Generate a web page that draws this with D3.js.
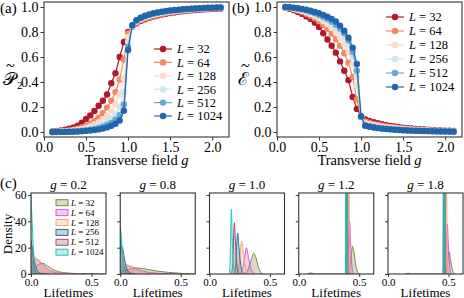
<!DOCTYPE html>
<html>
<head>
<meta charset="utf-8">
<script src="https://cdn.jsdelivr.net/npm/d3@7"></script>
<style>
  body { margin: 0; background: #fff; }
  svg text { font-family: "Liberation Serif", "DejaVu Serif", serif; fill: #000; }
</style>
</head>
<body>
<svg id="fig" width="464" height="298"></svg>
<script>
// system sizes
const sizes = [32, 64, 128, 256, 512, 1024];

// transverse field values
const gValues = [0.1, 0.15, 0.2, 0.25, 0.3, 0.35, 0.4, 0.45, 0.5, 0.55, 0.6, 0.65, 0.7, 0.75, 0.8, 0.85, 0.9, 0.95, 1.0,
    1.05, 1.1, 1.15, 1.2, 1.25, 1.3, 1.35, 1.4, 1.45, 1.5, 1.55, 1.6, 1.65, 1.7, 1.75, 1.8, 1.85, 1.9, 1.95, 2.0, 2.05, 2.1];

// (a) P2 tilde, one list per L
const p2_L32 = [0.005, 0.008, 0.012, 0.018, 0.026, 0.036, 0.05, 0.075, 0.105, 0.133, 0.168, 0.21, 0.25, 0.30, 0.39, 0.47, 0.6, 0.72, 0.8,
    0.845, 0.87, 0.888, 0.902, 0.914, 0.924, 0.932, 0.94, 0.946, 0.952, 0.957, 0.962, 0.966, 0.97, 0.973, 0.976, 0.979, 0.981, 0.983, 0.985, 0.987, 0.988];
const p2_L64 = [0.002, 0.004, 0.006, 0.009, 0.013, 0.018, 0.026, 0.036, 0.05, 0.067, 0.088, 0.115, 0.15, 0.195, 0.25, 0.32, 0.42, 0.58, 0.79,
    0.848, 0.877, 0.896, 0.909, 0.92, 0.93, 0.938, 0.945, 0.951, 0.957, 0.962, 0.966, 0.97, 0.974, 0.977, 0.98, 0.983, 0.985, 0.987, 0.989, 0.99, 0.991];
const p2_L128 = [0.001, 0.002, 0.004, 0.006, 0.008, 0.012, 0.017, 0.024, 0.033, 0.045, 0.06, 0.078, 0.1, 0.13, 0.17, 0.22, 0.3, 0.43, 0.76,
    0.85, 0.883, 0.903, 0.917, 0.928, 0.938, 0.946, 0.953, 0.958, 0.963, 0.968, 0.972, 0.976, 0.979, 0.982, 0.985, 0.987, 0.989, 0.991, 0.992, 0.993, 0.994];
const p2_L256 = [0.001, 0.001, 0.002, 0.004, 0.005, 0.008, 0.011, 0.015, 0.021, 0.029, 0.039, 0.051, 0.066, 0.085, 0.11, 0.145, 0.2, 0.32, 0.72,
    0.852, 0.888, 0.908, 0.922, 0.933, 0.943, 0.951, 0.957, 0.962, 0.967, 0.971, 0.975, 0.979, 0.982, 0.984, 0.987, 0.989, 0.991, 0.992, 0.993, 0.994, 0.995];
const p2_L512 = [0, 0.001, 0.001, 0.002, 0.003, 0.005, 0.007, 0.01, 0.014, 0.019, 0.025, 0.033, 0.043, 0.056, 0.073, 0.098, 0.135, 0.22, 0.68,
    0.853, 0.892, 0.912, 0.926, 0.937, 0.947, 0.954, 0.96, 0.965, 0.97, 0.974, 0.977, 0.981, 0.984, 0.986, 0.988, 0.99, 0.992, 0.993, 0.994, 0.995, 0.996];
const p2_L1024 = [0, 0, 0.001, 0.001, 0.002, 0.003, 0.004, 0.006, 0.009, 0.012, 0.016, 0.021, 0.028, 0.037, 0.05, 0.066, 0.092, 0.17, 0.656,
    0.855, 0.895, 0.915, 0.93, 0.94, 0.95, 0.957, 0.963, 0.968, 0.972, 0.976, 0.979, 0.982, 0.985, 0.987, 0.989, 0.991, 0.993, 0.994, 0.995, 0.996, 0.997];

// (b) E tilde, one list per L
const e_L32 = [0.995, 0.985, 0.975, 0.96, 0.945, 0.925, 0.905, 0.875, 0.84, 0.79, 0.74, 0.69, 0.635, 0.565, 0.49, 0.415, 0.28, 0.185, 0.125,
    0.1, 0.088, 0.078, 0.07, 0.062, 0.055, 0.049, 0.044, 0.039, 0.035, 0.031, 0.028, 0.025, 0.022, 0.02, 0.018, 0.016, 0.014, 0.013, 0.011, 0.01, 0.009];
const e_L64 = [0.997, 0.99, 0.983, 0.972, 0.96, 0.946, 0.93, 0.91, 0.887, 0.858, 0.825, 0.787, 0.742, 0.69, 0.63, 0.555, 0.44, 0.26, 0.125,
    0.085, 0.074, 0.065, 0.058, 0.051, 0.045, 0.04, 0.036, 0.032, 0.028, 0.025, 0.022, 0.02, 0.018, 0.016, 0.014, 0.013, 0.011, 0.01, 0.009, 0.008, 0.007];
const e_L128 = [0.998, 0.993, 0.987, 0.979, 0.969, 0.958, 0.945, 0.929, 0.91, 0.888, 0.862, 0.832, 0.797, 0.755, 0.705, 0.64, 0.54, 0.37, 0.125,
    0.07, 0.062, 0.055, 0.049, 0.043, 0.038, 0.034, 0.03, 0.027, 0.024, 0.021, 0.019, 0.017, 0.015, 0.013, 0.012, 0.011, 0.01, 0.009, 0.008, 0.007, 0.006];
const e_L256 = [0.999, 0.995, 0.99, 0.983, 0.975, 0.966, 0.955, 0.942, 0.927, 0.909, 0.888, 0.864, 0.835, 0.8, 0.757, 0.7, 0.6, 0.44, 0.125,
    0.06, 0.05, 0.044, 0.039, 0.034, 0.03, 0.027, 0.024, 0.021, 0.019, 0.017, 0.015, 0.013, 0.012, 0.011, 0.01, 0.009, 0.008, 0.007, 0.006, 0.005, 0.005];
const e_L512 = [1.0, 0.997, 0.993, 0.987, 0.98, 0.972, 0.962, 0.951, 0.938, 0.922, 0.904, 0.883, 0.858, 0.828, 0.79, 0.735, 0.64, 0.49, 0.125,
    0.055, 0.046, 0.04, 0.035, 0.03, 0.027, 0.024, 0.021, 0.018, 0.016, 0.014, 0.013, 0.011, 0.01, 0.009, 0.008, 0.007, 0.006, 0.006, 0.005, 0.004, 0.004];
const e_L1024 = [1.0, 0.998, 0.995, 0.99, 0.985, 0.978, 0.97, 0.96, 0.95, 0.937, 0.922, 0.905, 0.884, 0.85, 0.81, 0.755, 0.675, 0.545, 0.125,
    0.05, 0.042, 0.036, 0.031, 0.027, 0.024, 0.021, 0.018, 0.016, 0.014, 0.012, 0.011, 0.01, 0.009, 0.008, 0.007, 0.006, 0.005, 0.005, 0.004, 0.004, 0.003];

// (c) lifetime densities, [lifetime, density] knots, one list per L (32 ... 1024)
const densityTitles = ["0.2", "0.8", "1.0", "1.2", "1.8"];
const dens_g02 = [
    [[0, 2], [0.03, 5], [0.07, 7.5], [0.1, 8], [0.13, 6.5], [0.17, 4], [0.22, 2], [0.3, 0.8], [0.4, 0.3], [0.55, 0.1], [0.62, 0]],
    [[0, 4], [0.02, 9], [0.05, 11], [0.08, 9], [0.12, 5], [0.17, 2], [0.25, 0.6], [0.35, 0.1], [0.45, 0]],
    [[0, 6], [0.02, 11], [0.04, 12.5], [0.06, 10], [0.09, 5], [0.13, 2], [0.2, 0.4], [0.3, 0]],
    [[0, 22], [0.01, 21], [0.025, 12], [0.045, 4], [0.07, 1], [0.1, 0.2], [0.14, 0]],
    [[0, 26], [0.01, 19], [0.02, 10], [0.035, 3], [0.055, 0.6], [0.08, 0]],
    [[0, 60], [0.008, 42], [0.018, 22], [0.03, 9], [0.045, 2], [0.065, 0]]
];
const dens_g08 = [
    [[0, 1], [0.04, 2.8], [0.1, 4.2], [0.15, 4.5], [0.22, 3.6], [0.3, 2.3], [0.4, 1.2], [0.5, 0.5], [0.62, 0.1]],
    [[0, 2], [0.03, 4.5], [0.07, 6], [0.11, 5], [0.16, 3], [0.22, 1.5], [0.3, 0.6], [0.4, 0.2], [0.5, 0]],
    [[0, 4], [0.03, 7.5], [0.06, 7], [0.1, 4], [0.15, 1.8], [0.22, 0.5], [0.3, 0]],
    [[0, 16], [0.015, 21], [0.03, 14], [0.05, 5], [0.08, 1], [0.12, 0]],
    [[0, 26], [0.012, 20], [0.025, 9], [0.04, 3], [0.065, 0.5], [0.09, 0]],
    [[0, 37], [0.008, 30], [0.018, 15], [0.03, 5], [0.045, 1], [0.06, 0]]
];
const dens_g10 = [
    [[0.28, 0], [0.31, 2], [0.34, 9], [0.365, 15.7], [0.385, 12], [0.405, 5], [0.425, 1], [0.445, 0]],
    [[0.24, 0], [0.27, 3], [0.29, 12], [0.305, 20], [0.32, 14], [0.34, 5], [0.36, 1], [0.38, 0]],
    [[0.22, 0], [0.24, 4], [0.255, 17], [0.266, 25], [0.278, 17], [0.295, 6], [0.315, 1], [0.335, 0]],
    [[0.2, 0], [0.215, 5], [0.225, 22], [0.233, 31], [0.243, 21], [0.258, 7], [0.275, 1], [0.29, 0]],
    [[0.18, 0], [0.193, 8], [0.2, 30], [0.206, 39], [0.214, 25], [0.226, 8], [0.24, 1], [0.255, 0]],
    [[0.165, 0], [0.172, 15], [0.177, 40], [0.181, 49], [0.187, 30], [0.196, 10], [0.208, 2], [0.22, 0]]
];
const dens_g12 = [
    [[0.07, 0], [0.1, 0.8], [0.135, 0], [0.41, 0], [0.425, 6], [0.437, 17], [0.445, 21], [0.457, 16], [0.473, 6], [0.49, 1], [0.505, 0]],
    [[0.4, 0], [0.41, 15], [0.416, 36], [0.421, 40], [0.428, 25], [0.438, 8], [0.45, 1], [0.462, 0]],
    [[0.405, 0], [0.409, 60], [0.413, 120], [0.417, 60], [0.423, 5], [0.43, 0]],
    [[0.39, 0], [0.394, 120], [0.401, 120], [0.406, 0]],
    [[0.388, 0], [0.392, 120], [0.399, 120], [0.404, 0]],
    [[0.386, 0], [0.39, 150], [0.398, 150], [0.402, 0]]
];
const dens_g18 = [
    [[0.14, 0], [0.17, 0.6], [0.2, 0], [0.475, 0], [0.49, 6], [0.498, 14], [0.505, 17], [0.515, 12], [0.528, 5], [0.543, 1], [0.558, 0]],
    [[0.475, 0], [0.482, 15], [0.487, 36], [0.491, 38], [0.499, 22], [0.509, 7], [0.519, 1], [0.53, 0]],
    [[0.474, 0], [0.478, 60], [0.482, 120], [0.486, 60], [0.491, 5], [0.497, 0]],
    [[0.458, 0], [0.462, 120], [0.468, 120], [0.472, 0]],
    [[0.457, 0], [0.461, 120], [0.467, 120], [0.471, 0]],
    [[0.455, 0], [0.459, 150], [0.467, 150], [0.471, 0]]
];

const lineColors = ["#b2182b", "#ef8a62", "#fddbc7", "#d1e5f0", "#67a9cf", "#2166ac"];
const densColors = ["#7d8a3c", "#d65ed6", "#f2a77a", "#2a6e90", "#a0506c", "#22c7b8"];

const svg = d3.select("#fig");

createLinePanel({ left: 44, right: 229, top: 2, bottom: 137 },
    [p2_L32, p2_L64, p2_L128, p2_L256, p2_L512, p2_L1024],
    "\u{1D4AB}", "2", "(a)", 0, 3, { x: 154, y: 49, dy: 13.4 });
createLinePanel({ left: 277, right: 462, top: 2, bottom: 137 },
    [e_L32, e_L64, e_L128, e_L256, e_L512, e_L1024],
    "\u2130", null, "(b)", 232, 238, { x: 386, y: 17, dy: 14 });

[dens_g02, dens_g08, dens_g10, dens_g12, dens_g18].forEach((curves, i) => {
    createDensityPanel({ left: 31 + i * 89.25, width: 75, top: 193, bottom: 274 }, curves, densityTitles[i], i === 0);
});

svg.append("text").attr("x", 0).attr("y", 188).style("font-size", "15px").text("(c)");
svg.append("text")
    .attr("transform", "translate(12,234) rotate(-90)")
    .attr("text-anchor", "middle").style("font-size", "13px").text("Density");

// Fonction pour un panneau de courbes avec marqueurs
function createLinePanel(box, series, symbol, sub, tag, tagX, labelX, leg) {
    const x = d3.scaleLinear().domain([0, 2.2]).range([box.left, box.right]);
    const y = d3.scaleLinear().domain([-0.04, 1.04]).range([box.bottom, box.top]);
    const g = svg.append("g");

    g.append("g")
        .attr("transform", `translate(0,${box.bottom})`)
        .call(d3.axisBottom(x).tickValues([0, 0.5, 1, 1.5, 2]).tickFormat(d3.format(".1f")).tickSize(3.5).tickPadding(1.5))
        .call(styleAxis);
    g.append("g")
        .attr("transform", `translate(${box.left},0)`)
        .call(d3.axisLeft(y).tickValues([0, 0.2, 0.4, 0.6, 0.8, 1.0]).tickFormat(d3.format(".1f")).tickSize(3.5).tickPadding(2))
        .call(styleAxis);

    const line = d3.line().x((d, i) => x(gValues[i])).y(d => y(d));
    series.forEach((vals, k) => {
        g.append("path").datum(vals)
            .attr("d", line).attr("fill", "none")
            .attr("stroke", lineColors[k]).attr("stroke-width", 1.2);
        g.selectAll(null).data(vals).enter().append("circle")
            .attr("cx", (d, i) => x(gValues[i])).attr("cy", d => y(d))
            .attr("r", 3.2).attr("fill", lineColors[k]);
    });

    g.append("rect")
        .attr("x", box.left).attr("y", box.top)
        .attr("width", box.right - box.left).attr("height", box.bottom - box.top)
        .attr("fill", "none").attr("stroke", "#333").attr("stroke-width", 1.1);

    // légende
    sizes.forEach((L, k) => {
        const ly = leg.y + k * leg.dy;
        g.append("line").attr("x1", leg.x).attr("x2", leg.x + 18).attr("y1", ly).attr("y2", ly)
            .attr("stroke", lineColors[k]).attr("stroke-width", 1.2);
        g.append("circle").attr("cx", leg.x + 9).attr("cy", ly).attr("r", 3.2).attr("fill", lineColors[k]);
        const t = g.append("text").attr("x", leg.x + 23).attr("y", ly + 4.3).style("font-size", "12.5px");
        t.append("tspan").style("font-style", "italic").text("L");
        t.append("tspan").text(` = ${L}`);
    });

    g.append("text")
        .attr("x", (box.left + box.right) / 2).attr("y", box.bottom + 28)
        .attr("text-anchor", "middle").style("font-size", "14.5px")
        .call(t => {
            t.append("tspan").text("Transverse field ");
            t.append("tspan").style("font-style", "italic").text("g");
        });

    // étiquette de l'axe y : symbole, tilde au-dessus, indice
    const yl = g.append("text").attr("x", labelX).attr("y", 85).style("font-size", "18px");
    yl.append("tspan").text(symbol);
    yl.append("tspan").attr("x", labelX + 3).attr("y", 71).style("font-size", "16px").text("~");
    if (sub) yl.append("tspan").attr("x", labelX + 14).attr("y", 89).style("font-size", "11px").text(sub);

    g.append("text").attr("x", tagX).attr("y", 13).style("font-size", "15px").text(tag);
}

// Fonction pour un panneau de densités
function createDensityPanel(box, curves, title, showLabels) {
    const x = d3.scaleLinear().domain([0, 0.62]).range([box.left, box.left + box.width]);
    const y = d3.scaleLinear().domain([0, 61.5]).range([box.bottom, box.top]);
    const g = svg.append("g");
    const clipId = "clip" + Math.round(box.left);

    g.append("clipPath").attr("id", clipId).append("rect")
        .attr("x", box.left).attr("y", box.top).attr("width", box.width).attr("height", box.bottom - box.top);

    const area = d3.area().x(d => x(d[0])).y0(y(0)).y1(d => y(d[1])).curve(d3.curveMonotoneX);
    const line = d3.line().x(d => x(d[0])).y(d => y(d[1])).curve(d3.curveMonotoneX);
    const plot = g.append("g").attr("clip-path", `url(#${clipId})`);
    curves.forEach((pts, k) => {
        plot.append("path").datum(pts).attr("d", area).attr("fill", densColors[k]).attr("fill-opacity", 0.3);
        plot.append("path").datum(pts).attr("d", line).attr("fill", "none")
            .attr("stroke", densColors[k]).attr("stroke-width", 1);
    });

    g.append("g")
        .attr("transform", `translate(0,${box.bottom})`)
        .call(d3.axisBottom(x).tickValues([0, 0.5]).tickFormat(d3.format(".1f")).tickSize(3).tickPadding(1))
        .call(styleAxis).selectAll("text").style("font-size", "11px");
    g.append("g")
        .attr("transform", `translate(${box.left},0)`)
        .call(d3.axisLeft(y).tickValues([0, 20, 40, 60]).tickFormat(showLabels ? d3.format("d") : "").tickSize(3).tickPadding(1.5))
        .call(styleAxis).selectAll("text").style("font-size", "11.5px");

    g.append("rect")
        .attr("x", box.left).attr("y", box.top).attr("width", box.width).attr("height", box.bottom - box.top)
        .attr("fill", "none").attr("stroke", "#333").attr("stroke-width", 1.1);

    g.append("text").attr("x", box.left + box.width / 2).attr("y", box.top - 4)
        .attr("text-anchor", "middle").style("font-size", "13px")
        .call(t => {
            t.append("tspan").style("font-style", "italic").text("g");
            t.append("tspan").text(` = ${title}`);
        });
    g.append("text").attr("x", box.left + box.width / 2).attr("y", box.bottom + 22.5)
        .attr("text-anchor", "middle").style("font-size", "13px").text("Lifetimes");

    if (showLabels) {
        sizes.forEach((L, k) => {
            const ly = 202.7 + k * 9.9;
            g.append("rect").attr("x", 56).attr("y", ly - 3).attr("width", 12).attr("height", 6)
                .attr("fill", densColors[k]).attr("fill-opacity", 0.3)
                .attr("stroke", densColors[k]).attr("stroke-width", 1);
            const t = g.append("text").attr("x", 71).attr("y", ly + 3).style("font-size", "9px");
            t.append("tspan").style("font-style", "italic").text("L");
            t.append("tspan").text(` = ${L}`);
        });
    }
}

function styleAxis(sel) {
    sel.select(".domain").remove();
    sel.selectAll(".tick line").attr("stroke", "#333");
    sel.selectAll(".tick text").attr("fill", "#000").style("font-family", "Liberation Serif, serif").style("font-size", "14px");
}
</script>
</body>
</html>
